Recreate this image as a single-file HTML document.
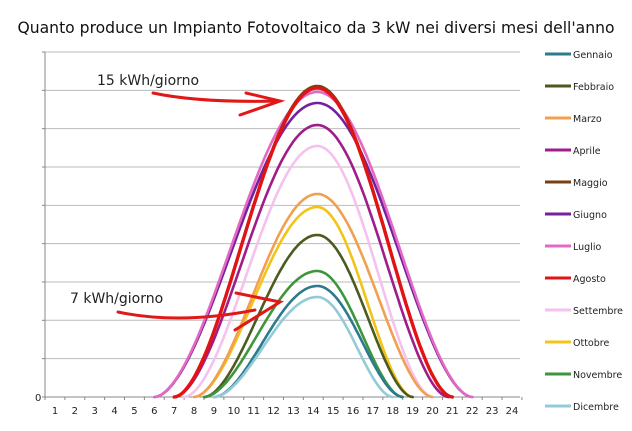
<!DOCTYPE html><html><head><meta charset="utf-8"><style>
body{margin:0;background:#fff;width:632px;height:426px;overflow:hidden}
text{font-family:"DejaVu Sans","Liberation Sans",sans-serif}
</style></head><body>
<svg id="s" width="632" height="426" xmlns="http://www.w3.org/2000/svg">
<text x="316" y="33" text-anchor="middle" font-size="15.6" fill="#111">Quanto produce un Impianto Fotovoltaico da 3 kW nei diversi mesi dell'anno</text>
<g id="grid" stroke="#bbb" stroke-width="1"></g>
<g id="axis" stroke="#888" stroke-width="1"></g>
<g id="curves" fill="none" stroke-linecap="round"></g>
<g id="leg"></g>
<text x="35" y="401" font-size="10" fill="#222">0</text>
<text x="97" y="85" font-size="14" fill="#222">15 kWh/giorno</text>
<text x="70" y="303" font-size="14" fill="#222">7 kWh/giorno</text>
<g fill="none" stroke="#e01818" stroke-width="3" stroke-linecap="round">
<path d="M153 93 Q200 103 280 101"/><path d="M246 93 L280 101 L240 115"/>
<path d="M118 312 Q180 325 255 310"/><path d="M236 293 L280 302 L235 330"/>
</g>
</svg>
<script>
const ns="http://www.w3.org/2000/svg";
function el(p,t,a,txt){const e=document.createElementNS(ns,t);for(const k in a)e.setAttribute(k,a[k]);if(txt)e.textContent=txt;document.getElementById(p).appendChild(e);}
const X=h=>55+(h-1)*19.87;
for(let i=0;i<10;i++){const y=52+i*38.33;el('grid','line',{x1:45,x2:520,y1:y,y2:y});}
el('axis','line',{x1:45,x2:45,y1:52,y2:397});
el('axis','line',{x1:45,x2:520,y1:397,y2:397});
for(let i=0;i<10;i++){const y=52+i*38.33;el('axis','line',{x1:42,x2:45,y1:y,y2:y});}
for(let h=0;h<=24;h++){el('axis','line',{x1:X(h)+9.9,x2:X(h)+9.9,y1:397,y2:400});}
for(let h=1;h<=24;h++)el('axis','text',{x:X(h),y:414,'font-size':10,'text-anchor':'middle',fill:'#222',stroke:'none'},String(h));
const m=[
["Gennaio","#2b7b8e",286,9,18.5],
["Febbraio","#4b5a1e",235,8.5,19],
["Marzo","#f0a050",194,8,20],
["Aprile","#a01c8a",125,7,20.8],
["Maggio","#7a4012",86,7,21],
["Giugno","#7420a0",103,6,22],
["Luglio","#e468c4",92,6,22],
["Agosto","#e01414",88,7,21],
["Settembre","#f5c2ee",146,7.5,20],
["Ottobre","#f2c416",207,8,19],
["Novembre","#3e963c",271,8.5,18.5],
["Dicembre","#92cad8",297,9,18]];
const order=[8,9,2,1,10,0,11,3,5,6,4,7];
for(const i of order){const [n,c,py,a,b]=m[i];let d="";const pk=14.2;
for(let k=0;k<=120;k++){const h=a+(b-a)*k/120;let u=h<pk?(h-a)/(pk-a)/2:0.5+(h-pk)/(b-pk)/2;
let f=Math.pow(Math.sin(Math.PI*u),1.8);
const y=397-(397-py)*f;d+=(k?"L":"M")+X(h).toFixed(1)+" "+y.toFixed(1);}
el('curves','path',{d:d,stroke:c,'stroke-width':i==7?3.4:2.6});}
m.forEach((r,i)=>{const y=54+i*32;el('leg','line',{x1:545,x2:571,y1:y,y2:y,stroke:r[1],'stroke-width':3});
el('leg','text',{x:573,y:y+4,'font-size':9.5,fill:'#222'},r[0]);});
</script>
</body></html>
